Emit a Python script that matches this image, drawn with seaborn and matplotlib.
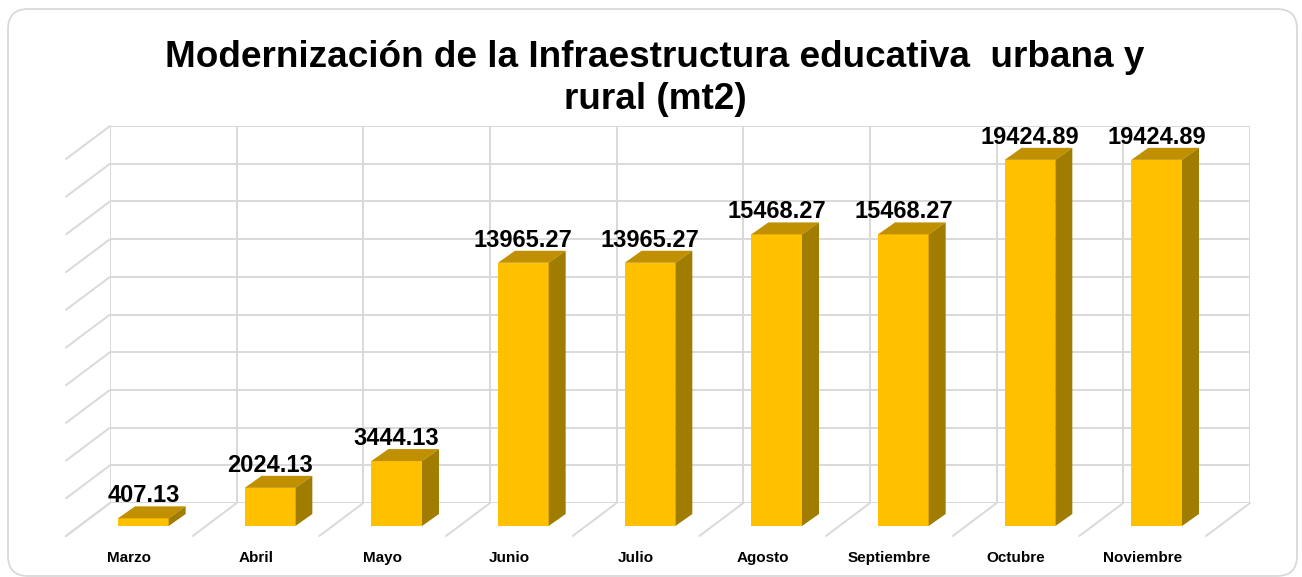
import matplotlib
matplotlib.use("Agg")
import matplotlib.pyplot as plt
import seaborn as sns
import numpy as np
import pandas as pd
from matplotlib.lines import Line2D
from matplotlib.patches import Polygon, FancyBboxPatch

months = ["Marzo", "Abril", "Mayo", "Junio", "Julio", "Agosto", "Septiembre", "Octubre", "Noviembre"]
values = [407.13, 2024.13, 3444.13, 13965.27, 13965.27, 15468.27, 15468.27, 19424.89, 19424.89]
value_labels = ["407.13", "2024.13", "3444.13", "13965.27", "13965.27", "15468.27", "15468.27", "19424.89", "19424.89"]
title = "Modernización de la Infraestructura educativa  urbana y\nrural (mt2)"
y_max = 20000
y_step = 2000

sns.set_theme(style="white")
plt.rcParams["font.family"] = ["Liberation Sans", "DejaVu Sans"]

W, H = 1302, 577
fig = plt.figure(figsize=(W / 100, H / 100), dpi=100)
fig.patch.set_facecolor("white")

# rounded border (in inches)
border = FancyBboxPatch((0.08, 0.01), 12.89, 5.67,
                        boxstyle="round,pad=0,rounding_size=0.2",
                        transform=fig.dpi_scale_trans, facecolor="white",
                        edgecolor="#D9D9D9", linewidth=1.3, zorder=0)
fig.add_artist(border)

grid_col = "#D9D9D9"
# geometry (pixels)
bx0, bx1, by_top, by_bot = 110, 1250, 126, 503
pw, ph = bx1 - bx0, by_bot - by_top
front_off = (-30, 23)   # bar front plane offset (x px, y px down)
floor_off = (-44, 33)   # floor front edge offset


def add_axes(off):
    dx, dy = off
    return fig.add_axes([(bx0 + dx) / W, (H - (by_bot + dy)) / H, pw / W, ph / H])


n = len(months)
ax_back = add_axes((0, 0))
ax_floor = add_axes(floor_off)
ax_bar = add_axes(front_off)

for ax in (ax_back, ax_floor, ax_bar):
    ax.set_xlim(-0.5, n - 0.5)
    ax.set_ylim(0, y_max)
    ax.patch.set_alpha(0)
    for s in ax.spines.values():
        s.set_visible(False)

# back wall grid
ax_back.set_yticks(np.arange(0, y_max + 1, y_step))
ax_back.set_xticks(np.arange(-0.5, n, 1.0))
ax_back.grid(True, color=grid_col, linewidth=1.4)
ax_back.tick_params(left=False, bottom=False, labelleft=False, labelbottom=False)

# floor axis labels
ax_floor.set_xticks(range(n))
ax_floor.set_xticklabels(months, fontsize=11, fontweight="bold", color="black")
ax_floor.set_yticks([])
ax_floor.tick_params(bottom=False, pad=5)

# bars
df = pd.DataFrame({"mes": months, "valor": values})
sns.barplot(data=df, x="mes", y="valor", ax=ax_bar, color="#FFC000",
            width=0.4, saturation=1, edgecolor="none", zorder=3)
ax_bar.set_xlim(-0.5, n - 0.5)
ax_bar.set_ylim(0, y_max)
ax_bar.set_xlabel("")
ax_bar.set_ylabel("")
ax_bar.set_xticks([])
ax_bar.set_yticks([])

inv = fig.transFigure.inverted()


def line_between(p, q):
    a = inv.transform(p)
    b = inv.transform(q)
    fig.add_artist(Line2D([a[0], b[0]], [a[1], b[1]], color=grid_col, linewidth=1.4, zorder=1))


# left wall diagonals
for yv in np.arange(0, y_max + 1, y_step):
    line_between(ax_back.transData.transform((-0.5, yv)), ax_floor.transData.transform((-0.5, yv)))
# floor diagonals
for xv in np.arange(-0.5, n, 1.0):
    line_between(ax_back.transData.transform((xv, 0)), ax_floor.transData.transform((xv, 0)))

# 3D faces
ddx, ddy = 17, 12
for patch in ax_bar.patches:
    x0, y0 = patch.get_x(), patch.get_y()
    x1, y1 = x0 + patch.get_width(), y0 + patch.get_height()
    (px0, py0), (px1, py1) = ax_bar.transData.transform([(x0, y0), (x1, y1)])
    top = [(px0, py1), (px1, py1), (px1 + ddx, py1 + ddy), (px0 + ddx, py1 + ddy)]
    side = [(px1, py0), (px1, py1), (px1 + ddx, py1 + ddy), (px1 + ddx, py0 + ddy)]
    fig.add_artist(Polygon(inv.transform(top), closed=True, facecolor="#C09000", edgecolor="none",
                           transform=fig.transFigure, zorder=4))
    fig.add_artist(Polygon(inv.transform(side), closed=True, facecolor="#A07C00", edgecolor="none",
                           transform=fig.transFigure, zorder=4))

# value labels
for i, (v, lab) in enumerate(zip(values, value_labels)):
    ax_bar.annotate(lab, (i, v), xytext=(0, 11.5), textcoords="offset points",
                    ha="center", va="baseline", fontsize=17, fontweight="bold",
                    color="black", zorder=6, annotation_clip=False)

fig.text(655 / W, 1 - 40 / H, title, ha="center", va="top", fontsize=26.6,
         fontweight="bold", color="black", linespacing=1.25)

fig.savefig("out.png", dpi=100)
